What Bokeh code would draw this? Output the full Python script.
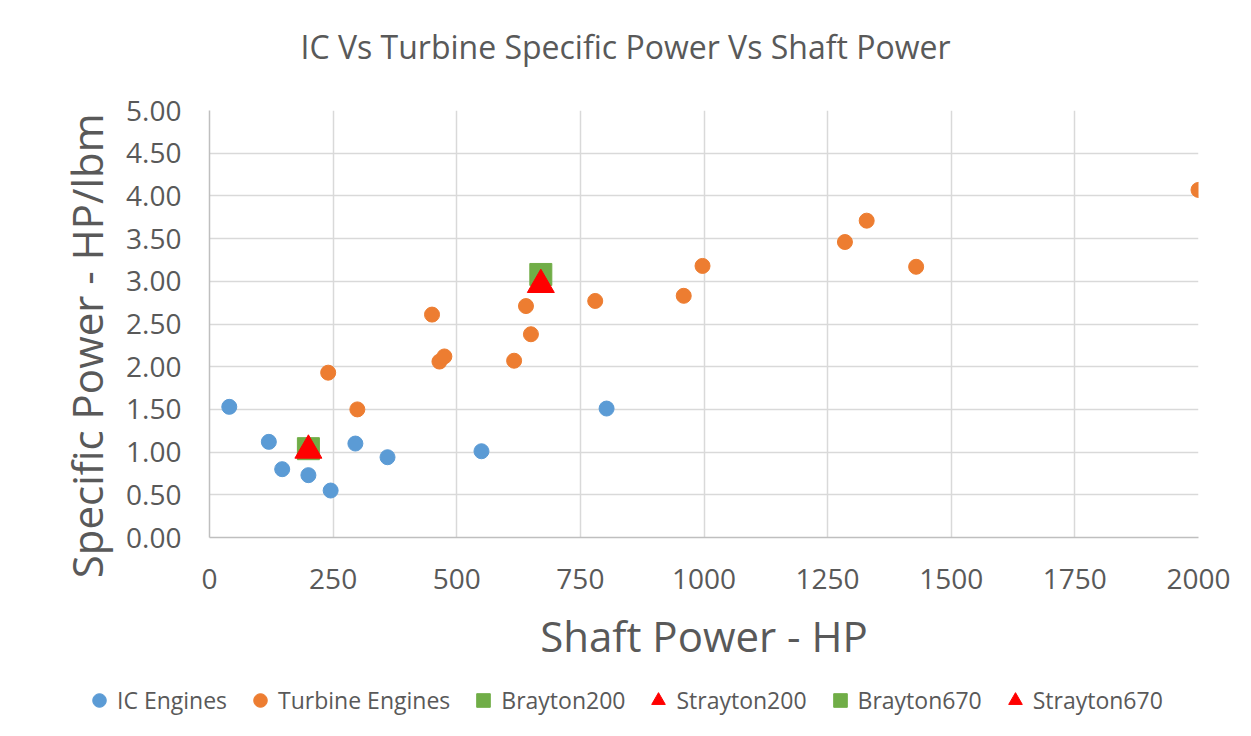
from bokeh.plotting import figure
from bokeh.layouts import column
from bokeh.models import (Range1d, FixedTicker, NumeralTickFormatter,
                          Legend, LegendItem)
from bokeh.embed import file_html
from bokeh.resources import INLINE

# ---- data ----
ic_x = [40, 120, 147, 200, 245, 295, 360, 550, 803]
ic_y = [1.53, 1.12, 0.80, 0.73, 0.55, 1.10, 0.94, 1.01, 1.51]

turb_x = [240, 299, 450, 465, 475, 616, 640, 650, 780, 959, 997, 1285, 1329, 1429, 2000]
turb_y = [1.93, 1.50, 2.61, 2.06, 2.12, 2.07, 2.71, 2.38, 2.77, 2.83, 3.18, 3.46, 3.71, 3.17, 4.07]

brayton200_x = [200]
brayton200_y = [1.04]
strayton200_x = [200]
strayton200_y = [1.02]
brayton670_x = [670]
brayton670_y = [3.08]
strayton670_x = [670]
strayton670_y = [2.96]

x_ticks = [0, 250, 500, 750, 1000, 1250, 1500, 1750, 2000]
y_ticks = [0.0, 0.5, 1.0, 1.5, 2.0, 2.5, 3.0, 3.5, 4.0, 4.5, 5.0]

series_names = ["IC Engines", "Turbine Engines", "Brayton200", "Strayton200", "Brayton670", "Strayton670"]

title_text = "IC Vs Turbine Specific Power Vs Shaft Power"
x_title = "Shaft Power - HP"
y_title = "Specific Power - HP/lbm"

FONT = "Open Sans"
TXT = "#595959"
BLUE = "#5B9BD5"
ORANGE = "#ED7D31"
GREEN = "#70AD47"
RED = "#FF0000"

styles = [
    dict(marker="circle", size=15, fill_color=BLUE, line_color=BLUE),
    dict(marker="circle", size=15, fill_color=ORANGE, line_color=ORANGE),
    dict(marker="square", size=22, fill_color=GREEN, line_color=GREEN),
    dict(marker="triangle", size=27, fill_color=RED, line_color=RED),
    dict(marker="square", size=22, fill_color=GREEN, line_color=GREEN),
    dict(marker="triangle", size=27, fill_color=RED, line_color=RED),
]
series_x = [ic_x, turb_x, brayton200_x, strayton200_x, brayton670_x, strayton670_x]
series_y = [ic_y, turb_y, brayton200_y, strayton200_y, brayton670_y, strayton670_y]

W = 1235
H0 = 70
H2 = 40
H1 = 720 - H0 - H2

# ---- title strip ----
p0 = figure(width=W, height=H0, output_backend="svg", toolbar_location=None,
            x_range=Range1d(0, 1), y_range=Range1d(0, 1),
            x_axis_type=None, y_axis_type=None, min_border=0,
            title_location="below")
p0.outline_line_color = None
p0.title.text = title_text
p0.title.align = "left"
p0.title.offset = 300
p0.title.text_font = FONT
p0.title.text_font_size = "32px"
p0.title.text_font_style = "normal"
p0.title.text_color = TXT
p0.title.standoff = 6

# ---- main chart ----
p = figure(width=W, height=H1, output_backend="svg", toolbar_location=None,
           x_range=Range1d(0, 2000), y_range=Range1d(0, 5),
           min_border_left=209, min_border_right=W - 1198,
           min_border_top=110 - H0, min_border_bottom=H0 + H1 - 537)
p.title.visible = False
p.outline_line_color = None
p.background_fill_color = "white"
p.border_fill_color = "white"

for ax in (p.xaxis, p.yaxis):
    ax.axis_line_color = "#BFBFBF"
    ax.axis_line_width = 1.5
    ax.major_tick_line_color = None
    ax.minor_tick_line_color = None
    ax.major_tick_out = 0
    ax.major_tick_in = 0
    ax.minor_tick_out = 0
    ax.major_label_text_font = FONT
    ax.major_label_text_color = TXT
    ax.major_label_text_font_size = "28px"
    ax.axis_label_text_font = FONT
    ax.axis_label_text_font_size = "42px"
    ax.axis_label_text_font_style = "normal"
    ax.axis_label_text_color = TXT

p.xaxis.ticker = FixedTicker(ticks=x_ticks)
p.yaxis.ticker = FixedTicker(ticks=y_ticks)
p.xaxis.formatter = NumeralTickFormatter(format="0")
p.yaxis.formatter = NumeralTickFormatter(format="0.00")
p.xaxis.major_label_standoff = 31
p.yaxis.major_label_standoff = 28
p.xaxis.axis_label = x_title
p.yaxis.axis_label = y_title + "\u00a0" * 4
p.xaxis.axis_label_standoff = 15
p.yaxis.axis_label_standoff = 8

p.xgrid.ticker = FixedTicker(ticks=x_ticks)
p.ygrid.ticker = FixedTicker(ticks=y_ticks)
p.grid.grid_line_color = "#D9D9D9"
p.grid.grid_line_width = 1.5

for xs, ys, st in zip(series_x, series_y, styles):
    p.scatter(xs, ys, **st)

# ---- legend strip: same series, drawn outside its visible range ----
p2 = figure(width=W, height=H2, output_backend="svg", toolbar_location=None,
            x_range=Range1d(-2, -1), y_range=Range1d(-2, -1),
            x_axis_type=None, y_axis_type=None, min_border=0)
p2.title.visible = False
p2.outline_line_color = None
p2.grid.visible = False
items = []
for name, xs, ys, st in zip(series_names, series_x, series_y, styles):
    r = p2.scatter(xs, ys, **st)
    items.append(LegendItem(label=name, renderers=[r]))

legend = Legend(items=items, orientation="horizontal", location=(81, 3))
legend.border_line_color = None
legend.background_fill_alpha = 0
legend.padding = 0
legend.margin = 0
legend.spacing = 15
legend.glyph_width = 36
legend.glyph_height = 34
legend.label_standoff = -4
legend.label_height = 34
legend.label_text_font = FONT
legend.label_text_font_size = "23px"
legend.label_text_color = TXT
p2.add_layout(legend, "center")

for fig in (p0, p, p2):
    if "frame_align" in fig.properties():
        fig.frame_align = False

open("out.html", "w").write(file_html(column(p0, p, p2), INLINE))
